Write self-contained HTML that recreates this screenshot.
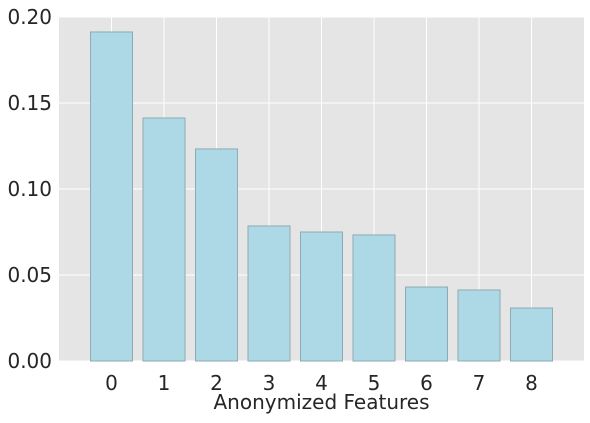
<!DOCTYPE html>
<html><head><meta charset="utf-8"><style>
body{margin:0;background:#fff;width:590px;height:418px;overflow:hidden}
svg text{font-family:"DejaVu Sans","Liberation Sans",sans-serif;fill:#262626}
</style></head><body>
<svg id="chart" width="590" height="418"></svg>
<script>
const categories=["0","1","2","3","4","5","6","7","8"];
const values=[0.1913,0.1413,0.1233,0.0785,0.075,0.0733,0.043,0.0413,0.0308];
const yTicks=[0,0.05,0.1,0.15,0.2];
const yTickLabels=["0.00","0.05","0.10","0.15","0.20"];
const L=59,R=584,T=17,B=361;
const xs=i=>L+(i+1)*(R-L)/10;
const ys=v=>B-(v/0.2)*(B-T);
const NS="http://www.w3.org/2000/svg";
const svg=document.getElementById('chart');
function mk(t,a,p){const e=document.createElementNS(NS,t);for(const k in a)e.setAttribute(k,a[k]);(p||svg).appendChild(e);return e;}
const bg=mk('rect',{x:L,y:T,width:R-L,height:B-T,fill:'#e5e5e5'});


yTicks.forEach((v,i)=>{
 const g=mk('line',{x1:L,x2:R,y1:ys(v),y2:ys(v),stroke:'#fff','stroke-width':1});
 
 
 const t=mk('text',{x:52,y:ys(v)+7,'text-anchor':'end','font-size':20});
 t.textContent=yTickLabels[i];
 
 
});
categories.forEach((c,i)=>{
 const g=mk('line',{x1:xs(i),x2:xs(i),y1:T,y2:B,stroke:'#fff','stroke-width':1});
 
 
});
const bw=0.8*(R-L)/10;
categories.forEach((c,i)=>{
 const r=mk('rect',{x:xs(i)-bw/2,y:ys(values[i]),width:bw,height:B-ys(values[i]),fill:'#add8e6',stroke:'#8eaab3','stroke-width':1});
 
 
 const t=mk('text',{x:xs(i),y:390,'text-anchor':'middle','font-size':20});
 t.textContent=c;
 
 
});
const xl=mk('text',{x:L+(R-L)/2,y:409,'text-anchor':'middle','font-size':20});
xl.textContent='Anonymized Features';


</script>
</body></html>
